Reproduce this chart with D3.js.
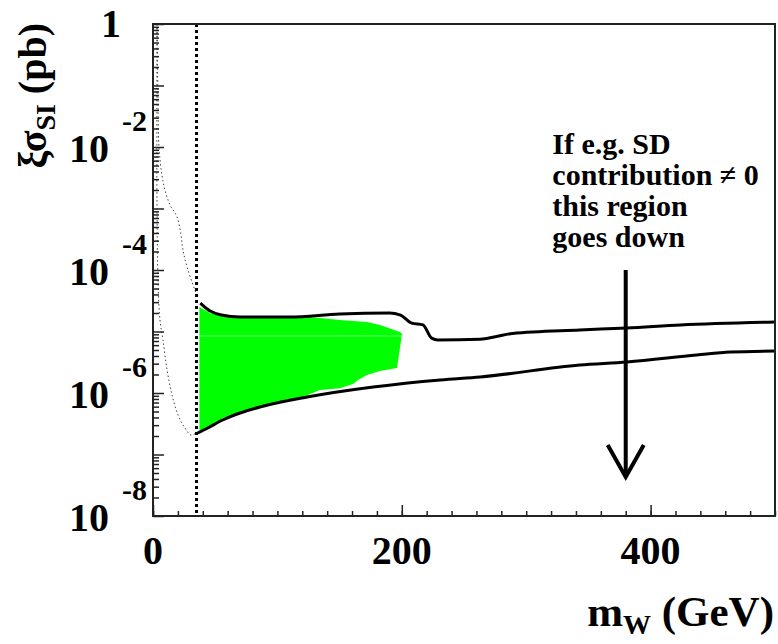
<!DOCTYPE html>
<html>
<head>
<meta charset="utf-8">
<script src="https://cdn.jsdelivr.net/npm/d3@7"></script>
<style>
  body { margin: 0; background: #fff; }
  svg { display: block; font-family: "Liberation Serif", "Times New Roman", serif; font-weight: bold; }
</style>
</head>
<body>
<div id="chart"></div>
<script>
// m_W (GeV) vs xi*sigma_SI (pb)
const upperLimit = [
  [38, 2.9e-5], [46, 2.15e-5], [55, 1.85e-5], [70, 1.72e-5], [110, 1.72e-5],
  [150, 1.93e-5], [190, 2.0e-5], [199, 1.85e-5], [208, 1.37e-5], [217, 1.28e-5],
  [224, 7.8e-6], [229, 7.3e-6], [263, 7.5e-6], [276, 8.3e-6], [289, 9.3e-6],
  [343, 1.06e-5], [381, 1.14e-5], [424, 1.28e-5], [500, 1.43e-5]
];
const lowerLimit = [
  [36, 2.24e-7], [44, 2.7e-7], [56, 3.64e-7], [70, 4.73e-7], [86, 5.92e-7],
  [124, 8.6e-7], [177, 1.25e-6], [231, 1.63e-6], [263, 1.82e-6], [343, 2.85e-6],
  [381, 3.19e-6], [437, 4.15e-6], [464, 4.64e-6], [500, 4.82e-6]
];
// allowed region (closed outline)
const allowedRegion = [
  [37.3, 2.5e-5], [45.8, 2.0e-5], [53.9, 1.79e-5], [123.8, 1.72e-5], [134.2, 1.66e-5],
  [150.3, 1.54e-5], [172, 1.43e-5], [182.5, 1.28e-5], [198.6, 9.8e-6], [200.2, 9.1e-6],
  [196.1, 2.55e-6], [182.5, 2.28e-6], [172, 1.96e-6], [164.8, 1.63e-6], [160.8, 1.4e-6],
  [150.3, 1.2e-6], [134.2, 1.12e-6], [120.6, 8.6e-7], [86, 5.92e-7], [70, 4.73e-7],
  [56.3, 3.92e-7], [51.4, 3.25e-7], [43.4, 2.8e-7], [37.3, 2.32e-7]
];
const regionSeam = [[37.3, 8.45e-6], [200, 8.45e-6]];
const curveUpper = [
  [3.2, 1], [4.0, 5.8e-2], [4.8, 1e-2], [7.2, 3.5e-3], [9.6, 2.0e-3], [13.7, 1.14e-3],
  [19.3, 7.3e-4], [22.5, 3.7e-4], [24.1, 2.1e-4], [28.1, 1e-4], [34.6, 4.2e-5]
];
const curveLower = [
  [3.2, 1], [3.2, 1.37e-3], [4.0, 6.9e-5], [5.6, 1.54e-5], [8.0, 7.3e-6], [11.3, 2.37e-6],
  [15.3, 9.3e-7], [20.1, 4.38e-7], [25.7, 2.7e-7], [30.5, 2.07e-7], [34.6, 2.24e-7]
];
const lepBound = 35;
const xMajorTicks = [0, 200, 400];
const yLabelExps = [0, -2, -4, -6, -8];
const noteLines = ["If e.g. SD", "contribution \u2260 0", "this region", "goes down"];
const notePos = [321, 7.7e-3];
const arrowShaft = [[380, 1e-4], [380, 4.3e-8]];
const arrowHead = [[365.5, 1.43e-7], [380, 4.3e-8], [394.5, 1.43e-7]];

const W = 778, H = 644;
const margin = { top: 24, right: 3, bottom: 128, left: 153 };

const svg = d3.select("#chart").append("svg")
  .attr("width", W).attr("height", H);

const x = d3.scaleLinear().domain([0, 500]).range([margin.left, W - margin.right]);
const y = d3.scaleLog().domain([1e-8, 1]).range([H - margin.bottom, margin.top]);

const line = d3.line().x(d => x(d[0])).y(d => y(d[1]));

// allowed region
svg.append("path")
  .attr("d", line(allowedRegion) + "Z")
  .attr("fill", "#00ff00");
svg.append("path")
  .attr("d", line(regionSeam))
  .attr("stroke", "#fff").attr("stroke-opacity", 0.45).attr("stroke-width", 1);

// limit curves
[upperLimit, lowerLimit].forEach(pts => {
  svg.append("path")
    .attr("d", line.curve(d3.curveMonotoneX)(pts))
    .attr("fill", "none").attr("stroke", "#000").attr("stroke-width", 3)
    .attr("stroke-linejoin", "round");
});

// thin dotted curves
[curveUpper, curveLower].forEach(pts => {
  svg.append("path")
    .attr("d", line.curve(d3.curveCatmullRom)(pts))
    .attr("fill", "none").attr("stroke", "#444").attr("stroke-width", 1)
    .attr("stroke-dasharray", "1.5,2.5");
});

// vertical bound
svg.append("line")
  .attr("x1", x(lepBound)).attr("x2", x(lepBound))
  .attr("y1", y(1)).attr("y2", y(1e-8))
  .attr("stroke", "#000").attr("stroke-width", 3)
  .attr("stroke-dasharray", "3,3");

// axes (ticks inside)
const xAxisG = svg.append("g").attr("transform", `translate(0,${y(1e-8)})`);
xAxisG.append("g").call(d3.axisBottom(x).tickValues(d3.range(0, 501, 20)).tickSize(-5).tickFormat(""));
xAxisG.append("g").call(d3.axisBottom(x).tickValues(xMajorTicks).tickSize(-11).tickFormat(""));

const yMinor = [];
for (let e = -8; e < 0; e++) for (let m = 2; m <= 9; m++) yMinor.push(m * Math.pow(10, e));
const yMajor = d3.range(-8, 1).map(e => Math.pow(10, e));
const yAxisG = svg.append("g").attr("transform", `translate(${x(0)},0)`);
yAxisG.append("g").call(d3.axisLeft(y).tickValues(yMinor).tickSize(-6).tickFormat(""));
yAxisG.append("g").call(d3.axisLeft(y).tickValues(yMajor).tickSize(-11).tickFormat(""));

svg.selectAll(".domain").remove();
svg.selectAll(".tick line").attr("stroke", "#222").attr("stroke-width", 1.5);

// frame
svg.append("rect")
  .attr("x", x(0)).attr("y", y(1))
  .attr("width", x(500) - x(0)).attr("height", y(1e-8) - y(1))
  .attr("fill", "none").attr("stroke", "#222").attr("stroke-width", 2);

// x tick labels
svg.append("g").selectAll("text")
  .data(xMajorTicks)
  .join("text")
  .attr("x", d => x(d)).attr("y", y(1e-8) + 48)
  .attr("text-anchor", "middle").attr("font-size", 40)
  .text(d => d);

// y tick labels
const yLab = svg.append("g");
yLabelExps.forEach(e => {
  const ty = y(Math.pow(10, e));
  if (e === 0) {
    yLab.append("text").attr("x", 121).attr("y", ty + 13)
      .attr("text-anchor", "end").attr("font-size", 40).text("1");
  } else {
    yLab.append("text").attr("x", 109).attr("y", ty + 15)
      .attr("text-anchor", "end").attr("font-size", 40).text("10");
    yLab.append("text").attr("x", 122).attr("y", ty - 16)
      .attr("font-size", 30).text(e);
  }
});

// axis titles
const xt = svg.append("text")
  .attr("x", 774).attr("y", 626)
  .attr("text-anchor", "end").attr("font-size", 43);
xt.append("tspan").text("m");
xt.append("tspan").attr("font-size", 28).attr("dy", 8).text("W");
xt.append("tspan").attr("dy", -8).text(" (GeV)");

const yt = svg.append("text")
  .attr("transform", "translate(46,23) rotate(-90)")
  .attr("text-anchor", "end").attr("font-size", 40);
yt.append("tspan").text("\u03BE\u03C3");
yt.append("tspan").attr("font-size", 28).attr("dy", 9).text("SI");
yt.append("tspan").attr("dy", -9).text(" (pb)");

// annotation
const note = svg.append("text")
  .attr("x", x(notePos[0])).attr("y", y(notePos[1]))
  .attr("font-size", 30);
noteLines.forEach((t, i) => {
  note.append("tspan").attr("x", x(notePos[0])).attr("dy", i === 0 ? 0 : 31).text(t);
});

svg.append("path")
  .attr("d", d3.line().x(d => x(d[0])).y(d => y(d[1]))(arrowShaft))
  .attr("stroke", "#000").attr("stroke-width", 4);
svg.append("path")
  .attr("d", d3.line().x(d => x(d[0])).y(d => y(d[1]))(arrowHead))
  .attr("fill", "none").attr("stroke", "#000").attr("stroke-width", 4)
  .attr("stroke-linejoin", "miter");
</script>
</body>
</html>
